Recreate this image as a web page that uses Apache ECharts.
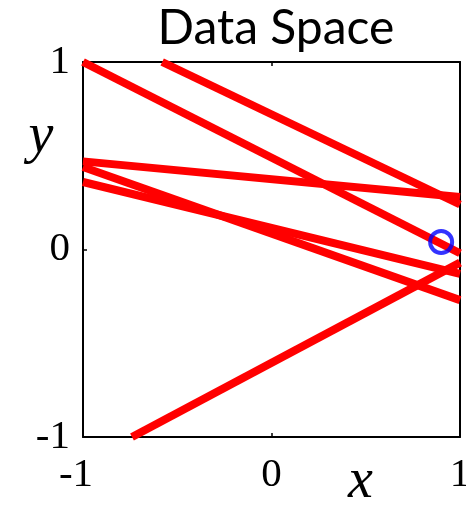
<!DOCTYPE html>
<html>
<head>
<meta charset="utf-8">
<script src="https://cdn.jsdelivr.net/npm/echarts@6/dist/echarts.min.js"></script>
<style>
  html, body { margin: 0; padding: 0; background: #fff; }
  #chart { width: 466px; height: 508px; }
</style>
</head>
<body>
<div id="chart"></div>
<script>
// tick values on both axes
const xTicks = [-1, 0, 1]
const yTicks = [-1, 0, 1]

// each red line as [x1, y1, x2, y2] in data space
const lineA = [-1, 1, 1, -0.02]
const lineB = [-0.58, 1, 1, 0.24]
const lineC = [-1, 0.47, 1, 0.28]
const lineD = [-1, 0.44, 1, -0.27]
const lineE = [-1, 0.36, 1, -0.13]
const lineF = [-0.74, -1, 1, -0.07]
const lines = [lineA, lineB, lineC, lineD, lineE, lineF]

// the blue point
const point = [0.9, 0.04]

const serif = 'Liberation Serif'

const chart = echarts.init(document.getElementById('chart'))

const lineSeries = lines.map(l => ({
  type: 'line',
  data: [[l[0], l[1]], [l[2], l[3]]],
  showSymbol: false,
  symbol: 'none',
  clip: true,
  silent: true,
  lineStyle: { color: '#ff0000', width: 8, cap: 'butt' },
  z: 2
}))

const baseAxis = {
  type: 'value',
  min: -1,
  max: 1,
  interval: 1,
  splitLine: { show: false },
  axisLine: { show: true, onZero: false, lineStyle: { color: '#000', width: 2 } },
  axisTick: { show: true, inside: true, length: 4, lineStyle: { color: '#000', width: 1.5 } }
}

const option = {
  animation: false,
  backgroundColor: '#fff',
  title: {
    text: 'Data Space',
    left: 271,
    textAlign: 'center',
    top: 0,
    textStyle: { fontFamily: 'Lato', fontSize: 48, fontWeight: 'normal', color: '#000' }
  },
  grid: { left: 83, right: 6, top: 62, bottom: 71, containLabel: false, outerBoundsMode: 'none' },
  xAxis: [
    Object.assign({}, baseAxis, {
      position: 'bottom',
      name: 'x',
      nameLocation: 'middle',
      nameGap: 17,
      nameMoveOverlap: false,
      nameTextStyle: {
        fontFamily: serif, fontStyle: 'italic', fontSize: 56, color: '#000',
        padding: [0, 0, 0, 178]
      },
      axisLabel: {
        margin: 18,
        fontFamily: serif, fontSize: 41, color: '#000',
        formatter: v => v < 0 ? '{neg|' + v + '}' : '' + v,
        rich: { neg: { fontFamily: serif, fontSize: 41, color: '#000', padding: [0, 14, 0, 0] } }
      },
      data: xTicks
    }),
    Object.assign({}, baseAxis, {
      position: 'top',
      axisLabel: { show: false }
    })
  ],
  yAxis: [
    Object.assign({}, baseAxis, {
      position: 'left',
      name: 'y',
      nameLocation: 'end',
      nameGap: -103,
      nameMoveOverlap: false,
      nameTextStyle: {
        fontFamily: serif, fontStyle: 'italic', fontSize: 56, color: '#000',
        padding: [0, 84, 0, 0]
      },
      axisLabel: { margin: 13, fontFamily: serif, fontSize: 41, color: '#000' },
      data: yTicks
    }),
    Object.assign({}, baseAxis, {
      position: 'right',
      axisLabel: { show: false }
    })
  ],
  series: lineSeries.concat([{
    type: 'scatter',
    data: [point],
    symbol: 'circle',
    symbolSize: 22,
    silent: true,
    itemStyle: { color: 'rgba(0,0,0,0)', borderColor: '#0000ff', borderWidth: 4 },
    z: 3
  }])
}

chart.setOption(option)
</script>
</body>
</html>
